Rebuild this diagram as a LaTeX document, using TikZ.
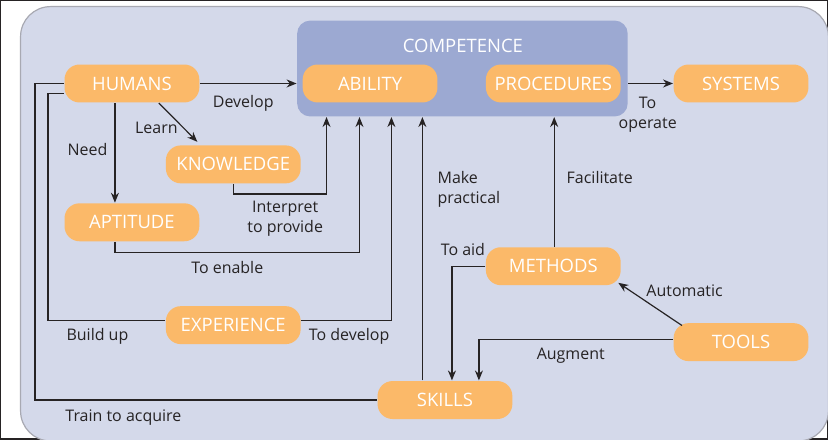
\documentclass[tikz,border=0pt]{standalone}
\usepackage{fontspec}
\setmainfont{Open Sans}
\usetikzlibrary{arrows.meta}

\definecolor{panel}{HTML}{D4D9EA}
\definecolor{rim}{HTML}{A8A9B2}
\definecolor{compfill}{HTML}{9CA9D2}
\definecolor{boxfill}{HTML}{FBB969}
\definecolor{ink}{HTML}{262324}

\begin{document}
\begin{tikzpicture}[x=1pt, y=-1pt, >={Stealth[length=10pt,width=8pt]},
  concept/.style={fill=boxfill, text=white, rounded corners=15pt,
    minimum width=135pt, minimum height=38pt, inner sep=0pt,
    font=\fontsize{18.5}{21}\selectfont},
  note/.style={text=ink, anchor=base, align=center, inner sep=0pt,
    font=\fontsize{16}{20}\selectfont},
  every path/.style={draw=ink, line width=1.2pt}]

\useasboundingbox (0,0) rectangle (828,439);
\path [fill=panel, draw=rim, rounded corners=30pt] (20,6) rectangle (829,441);

\node [fill=compfill, rounded corners=13pt, minimum width=331pt,
  minimum height=96pt] (competence) at (462.5,68) {};
\node [text=white, font=\fontsize{18.5}{21}\selectfont] (comp-title) at (463,45) {COMPETENCE};

\foreach \n/\t/\x/\y in {humans/HUMANS/131.5/83, ability/ABILITY/370/83,
    procedures/PROCEDURES/553.5/83, systems/SYSTEMS/741.5/83,
    knowledge/KNOWLEDGE/233/164, aptitude/APTITUDE/131.5/222,
    experience/EXPERIENCE/233/325, skills/SKILLS/445/400,
    methods/METHODS/553.5/266, tools/TOOLS/741.5/342}
  \node [concept] (\n) at (\x,\y) {\t};

\foreach \dx [count=\i] in {30,63,95,126,258}
  \coordinate (in-\i) at ([xshift=\dx pt]competence.south west);

\foreach \n/\t/\x/\y in {develop/Develop/243/107, learn/Learn/156/133,
    need/Need/87/155, interpret/{Interpret\\to provide}/285/232,
    enable/To enable/227/273, buildup/Build up/97/340,
    todevelop/To develop/349/340, train/Train to acquire/123/421,
    facilitate/Facilitate/600/183, operate/{To\\operate}/648/128,
    toaid/To aid/463/255, automatic/Automatic/685/296,
    augment/Augment/571/359}
  \node [note] (\n) at (\x,\y) {\t};
\node [note, anchor=base west, align=left] (practical) at (437,203) {Make\\practical};

\draw [->] (humans) -- (humans -| competence.west);
\draw [->] ([xshift=27pt]humans.south) -- ([xshift=-36pt,yshift=3pt]knowledge.north);
\draw [->] ([xshift=-17pt]humans.south) -- ([xshift=-17pt]aptitude.north);
\draw [->] (knowledge.south) -- ++(0,10) -| (in-1);
\draw [->] ([xshift=-17pt]aptitude.south) -- ++(0,11) -| (in-2);
\draw (humans.west) -- ++(-29,0) |- (skills.west);
\draw ([yshift=-10pt]humans.west) -- ++(-16,0) |- ([yshift=5pt]experience.west);
\draw [->] ([yshift=5pt]experience.east) -| (in-3);
\draw [->] (skills.north -| in-4) -- (in-4);
\draw [->] (methods.north -| in-5) -- (in-5);
\draw [->] (competence.east |- procedures) -- (systems);
\draw [->] (methods.west) -| ([xshift=7pt]skills.north);
\draw [->] ([xshift=9pt,yshift=-3pt]tools.north west) -- ([xshift=-3pt,yshift=3pt]methods.south east);
\draw [->] ([yshift=3pt]tools.west) -| ([xshift=34pt]skills.north);

\end{tikzpicture}
\end{document}
